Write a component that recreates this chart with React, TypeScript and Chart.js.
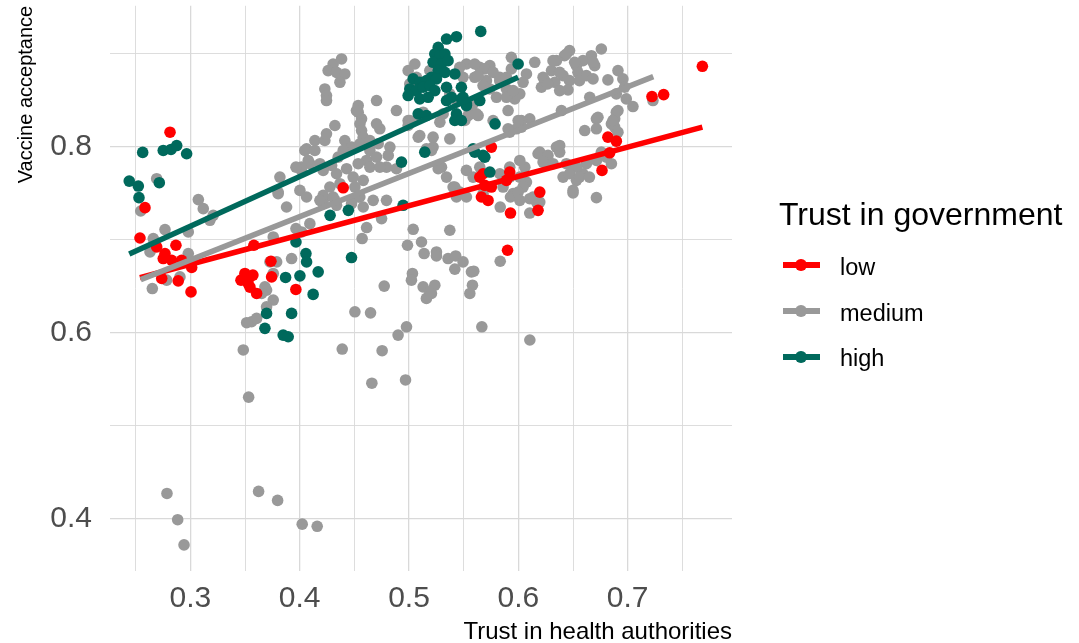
import React, { useEffect, useRef } from "react";
import { Chart, registerables } from "chart.js";

Chart.register(...registerables);

const groupNames = ["low", "medium", "high"];
const groupColors = ["#FF0000", "#999999", "#00695C"];
const legendTitle = "Trust in government";
const xAxisTitle = "Trust in health authorities";
const yAxisTitle = "Vaccine acceptance";

const xGridTicks = [0.25, 0.3, 0.35, 0.4, 0.45, 0.5, 0.55, 0.6, 0.65, 0.7, 0.75];
const xTickLabels = ["0.3", "0.4", "0.5", "0.6", "0.7"];
const yGridTicks = [0.4, 0.5, 0.6, 0.7, 0.8, 0.9];
const yTickLabels = ["0.4", "0.6", "0.8"];
const xRange = [0.2265, 0.7954];
const yRange = [0.3443, 0.9511];

// fitted regression line end points (x, y)
const lowFit: [number, number][] = [[0.2539, 0.659], [0.7683, 0.8207]];
const mediumFit: [number, number][] = [[0.2546, 0.657], [0.7234, 0.875]];
const highFit: [number, number][] = [[0.2441, 0.6845], [0.5998, 0.8743]];

const lowPoints: [number, number][] = [
  [0.2814, 0.8153], [0.2585, 0.7343], [0.2539, 0.7017], [0.2692, 0.6921], [0.2868, 0.6939],
  [0.2768, 0.685], [0.2752, 0.6796], [0.2829, 0.6778], [0.292, 0.6778], [0.3012, 0.67],
  [0.2738, 0.6582], [0.2889, 0.6556], [0.3006, 0.6438], [0.3581, 0.6939], [0.3743, 0.6599],
  [0.3737, 0.6767], [0.3965, 0.6464], [0.3499, 0.6636], [0.3545, 0.6599], [0.3527, 0.6532],
  [0.3463, 0.6564], [0.3572, 0.6618], [0.3545, 0.6489], [0.3606, 0.6421], [0.4398, 0.7556],
  [0.5901, 0.6885], [0.5928, 0.7285], [0.618, 0.7314], [0.6196, 0.751], [0.5921, 0.7725],
  [0.5753, 0.7993], [0.5647, 0.7671], [0.5693, 0.7582], [0.5753, 0.7564], [0.5662, 0.7457],
  [0.5723, 0.742], [0.5677, 0.7707], [0.5891, 0.7636], [0.6765, 0.7743], [0.6835, 0.7932],
  [0.6819, 0.81], [0.6896, 0.8057], [0.7222, 0.8536], [0.7329, 0.8557], [0.7683, 0.8861],
];

const highPoints: [number, number][] = [
  [0.2564, 0.7936], [0.2752, 0.7957], [0.2823, 0.7968], [0.2875, 0.801], [0.2966, 0.7922],
  [0.2441, 0.7628], [0.2524, 0.7575], [0.253, 0.745], [0.2716, 0.7611], [0.3871, 0.6593],
  [0.4002, 0.661], [0.4123, 0.6411], [0.4057, 0.685], [0.4063, 0.676], [0.3966, 0.6974],
  [0.4169, 0.6653], [0.3697, 0.6207], [0.3682, 0.6046], [0.3849, 0.5974], [0.3895, 0.5956],
  [0.3926, 0.6207], [0.4474, 0.6807], [0.4278, 0.726], [0.4445, 0.7314], [0.4946, 0.7368],
  [0.4931, 0.7832], [0.5144, 0.7939], [0.5656, 0.9236], [0.5343, 0.9154], [0.5434, 0.9179],
  [0.5267, 0.9064], [0.5236, 0.8994], [0.5282, 0.8975], [0.5328, 0.8994], [0.522, 0.8904],
  [0.5297, 0.8886], [0.5357, 0.8922], [0.5267, 0.8815], [0.5328, 0.8796], [0.5419, 0.8779],
  [0.5038, 0.8726], [0.5098, 0.8689], [0.5159, 0.8707], [0.5205, 0.8743], [0.5251, 0.8726],
  [0.5007, 0.8618], [0.5068, 0.86], [0.5129, 0.8636], [0.519, 0.8654], [0.5236, 0.86],
  [0.4992, 0.8547], [0.5098, 0.8511], [0.5175, 0.8528], [0.5343, 0.8636], [0.5388, 0.8528],
  [0.5343, 0.8493], [0.5479, 0.8511], [0.5525, 0.8457], [0.5647, 0.8493], [0.5084, 0.835],
  [0.5159, 0.8332], [0.5434, 0.835], [0.5419, 0.8279], [0.5479, 0.8279], [0.5787, 0.8243],
  [0.5677, 0.7904], [0.5586, 0.7975], [0.5739, 0.7725], [0.5693, 0.7885], [0.5601, 0.7939],
  [0.5998, 0.8886], [0.5494, 0.8528], [0.5479, 0.8636], [0.5525, 0.8439],
];

const mediumPoints: [number, number][] = [
  [0.2692, 0.7654], [0.3073, 0.7429], [0.4063, 0.7975], [0.4139, 0.8064], [0.4017, 0.7743],
  [0.4093, 0.7815], [0.3819, 0.7671], [0.3803, 0.7493], [0.4002, 0.7528], [0.4063, 0.7457],
  [0.2546, 0.7307], [0.2661, 0.6939], [0.2631, 0.6867], [0.2768, 0.7107], [0.2981, 0.685],
  [0.2981, 0.7082], [0.2783, 0.6564], [0.2905, 0.6599], [0.2652, 0.6474], [0.2661, 0.7011],
  [0.3118, 0.7332], [0.3179, 0.7207], [0.3209, 0.726], [0.3758, 0.7028], [0.3803, 0.751],
  [0.388, 0.735], [0.3926, 0.6796], [0.3728, 0.676], [0.3789, 0.676], [0.3758, 0.6636],
  [0.4017, 0.7082], [0.4093, 0.7171], [0.3966, 0.7118], [0.3682, 0.6492], [0.3697, 0.6457],
  [0.3652, 0.6421], [0.3758, 0.635], [0.3697, 0.6278], [0.356, 0.6117], [0.3515, 0.6107],
  [0.3606, 0.6153], [0.3484, 0.5814], [0.3533, 0.5307], [0.2786, 0.4273], [0.2884, 0.3991],
  [0.2942, 0.372], [0.3624, 0.4295], [0.3798, 0.4198], [0.4023, 0.3943], [0.416, 0.392],
  [0.466, 0.5457], [0.4968, 0.5492], [0.5038, 0.711], [0.4986, 0.6939], [0.5114, 0.6974],
  [0.5138, 0.685], [0.5251, 0.6867], [0.5251, 0.6824], [0.5373, 0.71], [0.5357, 0.6796],
  [0.5427, 0.6824], [0.5494, 0.676], [0.5419, 0.6682], [0.5571, 0.6653], [0.5592, 0.666],
  [0.558, 0.651], [0.5556, 0.6421], [0.5031, 0.6636], [0.5022, 0.6564], [0.5129, 0.6492],
  [0.519, 0.6438], [0.5236, 0.651], [0.5159, 0.6368], [0.5205, 0.6421], [0.4773, 0.65],
  [0.4505, 0.6224], [0.4648, 0.6213], [0.4977, 0.6063], [0.49, 0.5974], [0.4389, 0.5824],
  [0.4754, 0.5806], [0.5666, 0.6063], [0.5834, 0.6767], [0.5834, 0.7349], [0.6105, 0.5921],
  [0.4794, 0.7421], [0.4749, 0.7225], [0.4612, 0.7129], [0.4571, 0.7011], [0.4322, 0.7421],
  [0.4215, 0.7421], [0.455, 0.7457], [0.65, 0.75], [0.6714, 0.745], [0.6104, 0.7439],
  [0.6166, 0.7403], [0.6104, 0.7285], [0.7231, 0.8493], [0.6468, 0.903], [0.6422, 0.8975],
  [0.6759, 0.9047], [0.6668, 0.8975], [0.6591, 0.8922], [0.6531, 0.8868], [0.6698, 0.8868],
  [0.6348, 0.8922], [0.6303, 0.8815], [0.6241, 0.8707], [0.6333, 0.8689], [0.6409, 0.8761],
  [0.6468, 0.8707], [0.6545, 0.8796], [0.6622, 0.8761], [0.6683, 0.8726], [0.6454, 0.8608],
  [0.6378, 0.86], [0.615, 0.8904], [0.6074, 0.8779], [0.6043, 0.8689], [0.6211, 0.8636],
  [0.6911, 0.8815], [0.6819, 0.8715], [0.6956, 0.8726], [0.6896, 0.8565], [0.6987, 0.8511],
  [0.7048, 0.8429], [0.6653, 0.8528], [0.6394, 0.8386], [0.6104, 0.8297], [0.6028, 0.8207],
  [0.6911, 0.8386], [0.6881, 0.8297], [0.6851, 0.8243], [0.6881, 0.8207], [0.6714, 0.8297],
  [0.6607, 0.8171], [0.6714, 0.819], [0.6911, 0.8153], [0.6059, 0.7778], [0.618, 0.7922],
  [0.6257, 0.785], [0.6348, 0.7993], [0.6378, 0.7939], [0.65, 0.7778], [0.6622, 0.7815],
  [0.6591, 0.7707], [0.6409, 0.7671], [0.6531, 0.7636], [0.65, 0.7528], [0.6851, 0.7815],
  [0.6759, 0.7939], [0.6074, 0.7618], [0.6134, 0.7457], [0.5936, 0.8957], [0.583, 0.8743],
  [0.5891, 0.8618], [0.5769, 0.8279], [0.5906, 0.8386], [0.5967, 0.8511], [0.6013, 0.8565],
  [0.6226, 0.8743], [0.6317, 0.8922], [0.6439, 0.8993], [0.6515, 0.8904], [0.6378, 0.8796],
  [0.6559, 0.8707], [0.6683, 0.8904], [0.6267, 0.8672], [0.6972, 0.8636], [0.6896, 0.8368],
  [0.6865, 0.8279], [0.6728, 0.8314], [0.6196, 0.7939], [0.6271, 0.7904], [0.6378, 0.8011],
  [0.6226, 0.7832], [0.6317, 0.7815], [0.6439, 0.7815], [0.6531, 0.7778], [0.6714, 0.785],
  [0.6805, 0.7885], [0.6468, 0.7707], [0.6559, 0.7671], [0.665, 0.7671], [0.6013, 0.7671],
  [0.5921, 0.7671], [0.583, 0.7707], [0.6043, 0.7564], [0.586, 0.7564], [0.5952, 0.7493],
  [0.6196, 0.7403], [0.5647, 0.7778], [0.5677, 0.7493], [0.5525, 0.8886], [0.5647, 0.885],
  [0.5739, 0.8868], [0.5601, 0.8743], [0.5708, 0.8707], [0.5556, 0.835], [0.5632, 0.8332],
  [0.551, 0.8279], [0.6028, 0.8279], [0.5906, 0.819], [0.5998, 0.8279], [0.4306, 0.8886],
  [0.4383, 0.894], [0.426, 0.8815], [0.4337, 0.8796], [0.4413, 0.8779], [0.4368, 0.8689],
  [0.423, 0.8618], [0.4245, 0.8547], [0.4245, 0.8493], [0.4703, 0.8493], [0.4535, 0.8439],
  [0.4535, 0.8368], [0.4566, 0.8297], [0.4551, 0.8243], [0.4566, 0.8171], [0.4581, 0.81],
  [0.4885, 0.8386], [0.4992, 0.8279], [0.4322, 0.8225], [0.4733, 0.819], [0.423, 0.8064],
  [0.4047, 0.7957], [0.4139, 0.7957], [0.4017, 0.7778], [0.4078, 0.785], [0.4185, 0.7815],
  [0.4292, 0.7796], [0.4352, 0.7885], [0.4413, 0.8064], [0.4474, 0.7993], [0.4398, 0.7957],
  [0.455, 0.8029], [0.4642, 0.8064], [0.4642, 0.7957], [0.4718, 0.8029], [0.4611, 0.785],
  [0.4535, 0.7815], [0.4642, 0.7778], [0.4703, 0.7885], [0.4825, 0.7993], [0.481, 0.7904],
  [0.4794, 0.7778], [0.4885, 0.7761], [0.4733, 0.7778], [0.3966, 0.7778], [0.4215, 0.7743],
  [0.4337, 0.7707], [0.4429, 0.7761], [0.4489, 0.7671], [0.4581, 0.7636], [0.4368, 0.76],
  [0.4276, 0.7564], [0.4215, 0.7475], [0.4306, 0.7457], [0.4505, 0.7564], [0.4535, 0.7457],
  [0.4215, 0.7386], [0.4337, 0.7368], [0.4474, 0.7386], [0.4672, 0.7421], [0.4581, 0.735],
  [0.5084, 0.81], [0.5373, 0.8082], [0.522, 0.7993], [0.5159, 0.7975], [0.5297, 0.7778],
  [0.5403, 0.7564], [0.4992, 0.8815], [0.5068, 0.8743], [0.5007, 0.8672], [0.5098, 0.8689],
  [0.519, 0.8815], [0.5464, 0.885], [0.5494, 0.8743], [0.5373, 0.8565], [0.5434, 0.8493],
  [0.5282, 0.826], [0.5312, 0.835], [0.5129, 0.8368], [0.5098, 0.8314], [0.5601, 0.8886],
  [0.5693, 0.8833], [0.5769, 0.8796], [0.583, 0.8707], [0.5891, 0.8743], [0.5936, 0.8833],
  [0.5632, 0.8761], [0.5677, 0.8654], [0.5739, 0.8618], [0.58, 0.8528], [0.5891, 0.8528],
  [0.5952, 0.86], [0.5617, 0.835], [0.554, 0.8332], [0.5586, 0.8457], [0.5983, 0.819],
  [0.5921, 0.8153], [0.5205, 0.7957], [0.5098, 0.8118], [0.522, 0.81], [0.5007, 0.8279],
  [0.4992, 0.8225], [0.4703, 0.8243], [0.4519, 0.8386], [0.4245, 0.8136], [0.5343, 0.7671],
  [0.5419, 0.7564], [0.5267, 0.7761], [0.5525, 0.7743], [0.5586, 0.7671], [0.5921, 0.7778],
  [0.6013, 0.785], [0.5434, 0.7457], [0.5465, 0.751], [0.5525, 0.7457], [0.5928, 0.7457],
  [0.5998, 0.751], [0.6013, 0.7421], [0.4185, 0.7421], [0.5053, 0.8886],
];

const groupPoints = [lowPoints, mediumPoints, highPoints];
const groupFits = [lowFit, mediumFit, highFit];

const FONT = "'Liberation Sans', Arial, Helvetica, sans-serif";
const near = (v: number, list: string[]) => list.some((s) => Math.abs(parseFloat(s) - v) < 1e-6);

export default function App() {
  const canvasRef = useRef<HTMLCanvasElement | null>(null);

  useEffect(() => {
    const canvas = canvasRef.current;
    if (!canvas) return;
    const toXY = (arr: [number, number][]) => arr.map(([x, y]) => ({ x, y }));
    const lineSets = [2, 1, 0].map((g) => ({
      type: "scatter" as const,
      label: groupNames[g] + " fit",
      data: toXY(groupFits[g]),
      showLine: true,
      borderColor: groupColors[g],
      backgroundColor: groupColors[g],
      borderWidth: 5.5,
      borderCapStyle: "butt" as const,
      pointRadius: 0,
    }));
    const pointSets = [2, 0, 1].map((g) => ({
      type: "scatter" as const,
      label: groupNames[g],
      data: toXY(groupPoints[g]),
      backgroundColor: groupColors[g],
      borderWidth: 0,
      pointRadius: 5.8,
      pointHoverRadius: 5.8,
    }));
    const gridColor = "#d9d9d9";
    const chart = new Chart(canvas, {
      type: "scatter",
      data: { datasets: [...lineSets, ...pointSets] as any },
      options: {
        animation: false,
        responsive: false,
        events: [],
        layout: { padding: { top: 5, right: 347, bottom: 0, left: 0 } },
        plugins: { legend: { display: false }, tooltip: { enabled: false } },
        scales: {
          x: {
            type: "linear",
            min: xRange[0],
            max: xRange[1],
            afterBuildTicks: (s: any) => {
              s.ticks = xGridTicks.map((v) => ({ value: v }));
            },
            afterFit: (s: any) => {
              s.height = 72.3;
              s.paddingLeft = 0;
              s.paddingRight = 0;
            },
            border: { display: false },
            grid: {
              color: gridColor,
              drawTicks: false,
              lineWidth: (ctx: any) => (near(ctx.tick?.value, xTickLabels) ? 1.3 : 0.9),
            },
            ticks: {
              autoSkip: false,
              maxRotation: 0,
              padding: 10,
              color: "#4d4d4d",
              font: { family: FONT, size: 30, lineHeight: 1.2 },
              callback: (v: any) => {
                const hit = xTickLabels.find((s) => Math.abs(parseFloat(s) - v) < 1e-6);
                return hit ?? "";
              },
            },
            title: {
              display: true,
              text: xAxisTitle,
              align: "end",
              color: "#000000",
              font: { family: FONT, size: 24, lineHeight: 1 },
              padding: { top: 0, bottom: -1 },
            },
          },
          y: {
            type: "linear",
            min: yRange[0],
            max: yRange[1],
            afterBuildTicks: (s: any) => {
              s.ticks = yGridTicks.map((v) => ({ value: v }));
            },
            afterFit: (s: any) => {
              s.width = 110;
              s.paddingTop = 0;
              s.paddingBottom = 0;
            },
            border: { display: false },
            grid: {
              color: gridColor,
              drawTicks: false,
              lineWidth: (ctx: any) => (near(ctx.tick?.value, yTickLabels) ? 1.3 : 0.9),
            },
            ticks: {
              autoSkip: false,
              padding: 18,
              color: "#4d4d4d",
              font: { family: FONT, size: 30, lineHeight: 1.2 },
              callback: (v: any) => {
                const hit = yTickLabels.find((s) => Math.abs(parseFloat(s) - v) < 1e-6);
                return hit ?? "";
              },
            },
            title: {
              display: true,
              text: yAxisTitle,
              align: "end",
              color: "#000000",
              font: { family: FONT, size: 20, lineHeight: 1 },
              padding: { top: 16, bottom: 0 },
            },
          },
        },
      },
    });
    return () => chart.destroy();
  }, []);

  const itemTops = [256, 302, 347];
  const keyCenters = [265, 311, 357];

  return (
    <div style={{ position: "absolute", left: 0, top: 0, width: 1079, height: 643, background: "#ffffff", overflow: "hidden" }}>
      <canvas ref={canvasRef} width={1079} height={643} style={{ position: "absolute", left: 0, top: 0, width: 1079, height: 643 }} />
      <div style={{ position: "absolute", left: 779, top: 198, fontFamily: FONT, fontSize: 32, lineHeight: "32px", color: "#000", whiteSpace: "nowrap" }}>
        {legendTitle}
      </div>
      {groupNames.map((name, i) => (
        <React.Fragment key={name}>
          <div style={{ position: "absolute", left: 783, top: keyCenters[i] - 2.75, width: 36.5, height: 5.5, background: groupColors[i] }} />
          <div style={{ position: "absolute", left: 801 - 5.8, top: keyCenters[i] - 5.8, width: 11.6, height: 11.6, borderRadius: "50%", background: groupColors[i] }} />
          <div style={{ position: "absolute", left: 840, top: itemTops[i], fontFamily: FONT, fontSize: 23.5, lineHeight: "23px", color: "#000", whiteSpace: "nowrap" }}>
            {name}
          </div>
        </React.Fragment>
      ))}
    </div>
  );
}
